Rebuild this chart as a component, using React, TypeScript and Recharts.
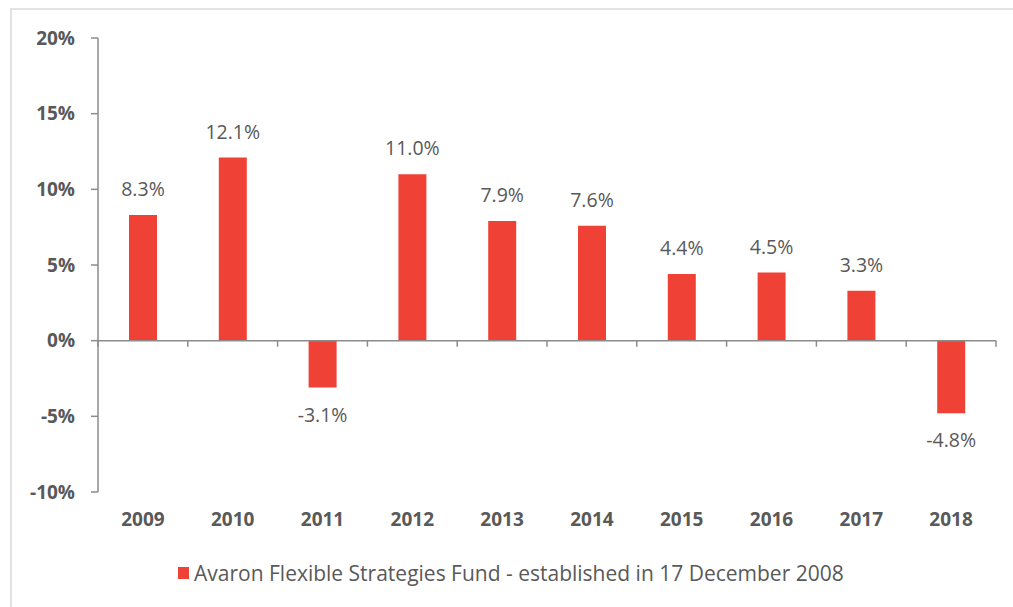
import React from 'react';
import { BarChart, Bar, XAxis, YAxis, ReferenceLine, LabelList, Legend } from 'recharts';

const years = ['2009', '2010', '2011', '2012', '2013', '2014', '2015', '2016', '2017', '2018'];
const returns = [8.3, 12.1, -3.1, 11.0, 7.9, 7.6, 4.4, 4.5, 3.3, -4.8];
const yTicks = [-10, -5, 0, 5, 10, 15, 20];
const seriesName = 'Avaron Flexible Strategies Fund - established in 17 December 2008';

const data = years.map((year, i) => ({ year, value: returns[i] }));

const BAR = '#F04137';
const TEXT = '#595959';
const AXIS = '#8C8C8C';
const FONT = '"Open Sans", sans-serif';

const fmt = (v: number) => `${v.toFixed(1)}%`;

const ZeroAxis = (props: any) => {
  const { x1, y1, x2, y2 } = props;
  const n = years.length;
  const step = (x2 - x1) / n;
  return (
    <g>
      <line x1={x1} y1={y1} x2={x2} y2={y2} stroke={AXIS} strokeWidth={1.5} />
      {Array.from({ length: n + 1 }, (_, i) => (
        <line
          key={i}
          x1={x1 + i * step}
          x2={x1 + i * step}
          y1={y1}
          y2={y1 + 6}
          stroke={AXIS}
          strokeWidth={1.5}
        />
      ))}
    </g>
  );
};

const renderLabel = (props: any) => {
  const { x, y, width, height, value } = props;
  const cx = Number(x) + Number(width) / 2;
  const top = Math.min(Number(y), Number(y) + Number(height));
  const bottom = Math.max(Number(y), Number(y) + Number(height));
  const common = {
    x: cx,
    textAnchor: 'middle' as const,
    fill: TEXT,
    fontSize: 19.5,
    fontFamily: FONT,
  };
  if (value >= 0) {
    return (
      <text {...common} y={top - 19}>
        {fmt(value)}
      </text>
    );
  }
  return (
    <text {...common} y={bottom + 20} dy="0.72em">
      {fmt(value)}
    </text>
  );
};

const renderLegend = () => (
  <div
    style={{
      display: 'flex',
      alignItems: 'center',
      fontFamily: FONT,
      fontSize: 21,
      lineHeight: '28px',
      height: 28,
      color: TEXT,
      whiteSpace: 'nowrap',
    }}
  >
    <span
      style={{
        display: 'inline-block',
        width: 11,
        height: 12,
        background: BAR,
        marginRight: 5,
      }}
    />
    <span>{seriesName}</span>
  </div>
);

export default function App() {
  return (
    <div style={{ position: 'absolute', left: 0, top: 0, width: 1013, height: 607, background: '#fff' }}>
      <div
        style={{
          position: 'absolute',
          left: 10,
          top: 8,
          width: 1003,
          height: 599,
          borderTop: '2px solid #E2E2E2',
          borderLeft: '2px solid #E2E2E2',
          boxSizing: 'border-box',
        }}
      />
      <div style={{ position: 'absolute', left: 0, top: 0 }}>
        <BarChart
          width={1013}
          height={607}
          data={data}
          margin={{ top: 38, right: 17, bottom: 57, left: 0 }}
          style={{ fontFamily: FONT }}
        >
          <XAxis
            dataKey="year"
            height={30}
            axisLine={false}
            tickLine={false}
            tickSize={0}
            tickMargin={21}
            interval={0}
            tick={{ fill: TEXT, fontSize: 19, fontWeight: 700, fontFamily: FONT }}
          />
          <YAxis
            width={98}
            domain={[-10, 20]}
            ticks={yTicks}
            interval={0}
            tickFormatter={(v: number) => `${v}%`}
            axisLine={{ stroke: AXIS, strokeWidth: 1.5 }}
            tickLine={{ stroke: AXIS, strokeWidth: 1.5 }}
            tickSize={7}
            tickMargin={16}
            tick={{ fill: TEXT, fontSize: 19, fontWeight: 700, fontFamily: FONT }}
          />
          <ReferenceLine y={0} shape={ZeroAxis} ifOverflow="visible" />
          <Bar dataKey="value" name={seriesName} fill={BAR} barSize={28} isAnimationActive={false}>
            <LabelList dataKey="value" content={renderLabel} />
          </Bar>
          <Legend
            layout="horizontal"
            verticalAlign="bottom"
            align="center"
            content={renderLegend}
            wrapperStyle={{ top: 559, left: 178, width: 720, height: 28 }}
          />
        </BarChart>
      </div>
    </div>
  );
}
